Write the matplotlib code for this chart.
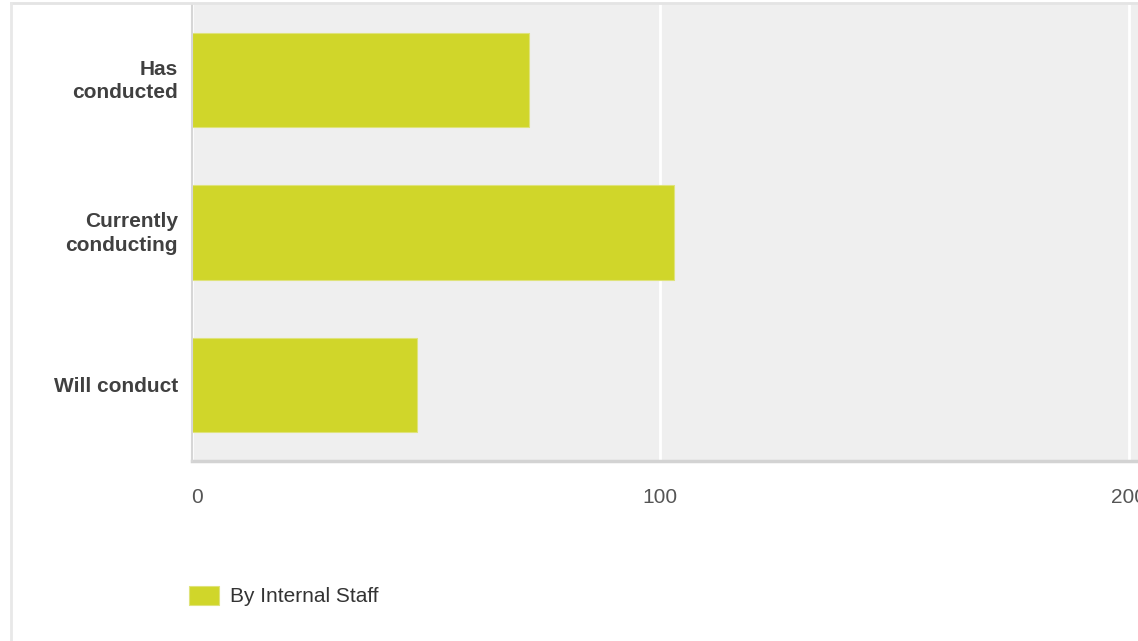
import matplotlib.pyplot as plt
import matplotlib.transforms as mtransforms
from matplotlib.lines import Line2D

categories = ['Has\nconducted', 'Currently\nconducting', 'Will conduct']
internal_staff = [72, 103, 48]
series_name = 'By Internal Staff'
xticks = [0, 100, 200]

plt.rcParams['font.family'] = ['Liberation Sans', 'DejaVu Sans']

fig = plt.figure(figsize=(11.38, 6.41), dpi=100)
fig.patch.set_facecolor('white')

# card border (top and left edges of the panel)
fig.add_artist(Line2D([11 / 1138, 1], [1 - 2.5 / 641, 1 - 2.5 / 641], color='#e4e4e4', lw=2))
fig.add_artist(Line2D([11 / 1138, 11 / 1138], [0, 1 - 2.5 / 641], color='#e8e8e8', lw=2))

ax = fig.add_axes([192 / 1138, 1 - 461 / 641, 1 - 192 / 1138, (461 - 4) / 641])
ax.set_facecolor('#efefef')

ypos = list(range(len(categories)))
ax.barh(ypos, internal_staff, height=0.62, color='#d0d62a', edgecolor='#dfe37a',
        linewidth=0.8, label=series_name, zorder=3)

ax.set_ylim(len(categories) - 0.5, -0.5)
ax.set_xlim(0, 202)
ax.set_xticks(xticks)
ax.set_xticklabels([str(t) for t in xticks])
ax.set_yticks(ypos)
ax.set_yticklabels(categories, fontweight='bold', color='#404040', fontsize=15,
                   linespacing=1.32)
ax.tick_params(axis='y', length=0, pad=10)
ax.tick_params(axis='x', length=0, pad=19.5, labelsize=15, labelcolor='#555555')

# the "0" label sits a little right of the axis line
lbl0 = ax.get_xticklabels()[0]
lbl0.set_transform(lbl0.get_transform() + mtransforms.ScaledTranslation(5 / 100, 0, fig.dpi_scale_trans))

# two-line category labels sit a bit higher
for lbl in ax.get_yticklabels():
    if '\n' in lbl.get_text():
        lbl.set_transform(lbl.get_transform() + mtransforms.ScaledTranslation(0, 3.5 / 100, fig.dpi_scale_trans))

ax.grid(axis='x', color='white', lw=2, zorder=1)
ax.set_axisbelow(True)

for s in ['top', 'right']:
    ax.spines[s].set_visible(False)
ax.spines['left'].set_color('#d6d6d6')
ax.spines['left'].set_linewidth(1.5)
ax.spines['bottom'].set_color('#d3d3d3')
ax.spines['bottom'].set_linewidth(2.5)
ax.spines['left'].set_zorder(4)

fig.legend(loc='center left', bbox_to_anchor=(170 / 1138, 1 - 596 / 641),
           frameon=False, fontsize=15, handlelength=1.45, handleheight=1.05,
           handletextpad=0.55, labelcolor='#333333')

fig.savefig('out.png', dpi=100)
